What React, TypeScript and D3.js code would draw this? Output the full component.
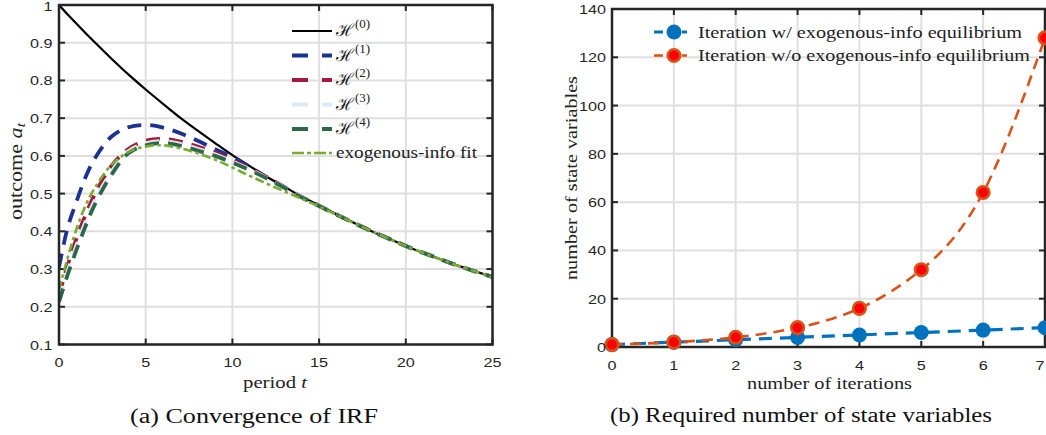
import React from "react";
import * as d3 from "d3";

// ---------- data ----------
const periods = [0, 0.5, 1, 1.5, 2, 3, 4, 5, 6, 7, 8, 9, 10, 11, 12, 13, 14, 15, 16, 17, 18, 19, 20, 21, 22, 23, 24, 25];
const irf0 = [1.0, 0.975, 0.951, 0.927, 0.904, 0.859, 0.816, 0.776, 0.738, 0.701, 0.667, 0.634, 0.602, 0.573, 0.544, 0.518, 0.492, 0.469, 0.445, 0.423, 0.401, 0.381, 0.361, 0.343, 0.326, 0.309, 0.294, 0.279];
const irf1 = [0.305, 0.41, 0.478, 0.54, 0.588, 0.65, 0.676, 0.682, 0.675, 0.66, 0.64, 0.618, 0.597, 0.571, 0.543, 0.517, 0.491, 0.468, 0.445, 0.423, 0.401, 0.381, 0.361, 0.343, 0.326, 0.309, 0.294, 0.279];
const irf2 = [0.23, 0.31, 0.38, 0.44, 0.492, 0.572, 0.618, 0.64, 0.645, 0.638, 0.625, 0.609, 0.589, 0.567, 0.543, 0.517, 0.491, 0.468, 0.445, 0.423, 0.401, 0.381, 0.361, 0.343, 0.326, 0.309, 0.294, 0.279];
const irf3 = [0.22, 0.295, 0.362, 0.422, 0.476, 0.556, 0.612, 0.633, 0.639, 0.632, 0.619, 0.604, 0.585, 0.564, 0.541, 0.516, 0.491, 0.468, 0.445, 0.423, 0.401, 0.381, 0.361, 0.343, 0.326, 0.309, 0.294, 0.279];
const irf4 = [0.213, 0.285, 0.35, 0.41, 0.465, 0.548, 0.607, 0.628, 0.634, 0.627, 0.614, 0.6, 0.582, 0.562, 0.54, 0.515, 0.49, 0.467, 0.444, 0.422, 0.401, 0.381, 0.361, 0.343, 0.326, 0.309, 0.294, 0.279];
const irfFit = [0.245, 0.33, 0.405, 0.465, 0.51, 0.575, 0.61, 0.625, 0.628, 0.62, 0.607, 0.59, 0.569, 0.547, 0.526, 0.506, 0.486, 0.466, 0.444, 0.422, 0.401, 0.381, 0.361, 0.343, 0.326, 0.309, 0.294, 0.278];

const leftXTicks = [0, 5, 10, 15, 20, 25];
const leftYTicks = [0.1, 0.2, 0.3, 0.4, 0.5, 0.6, 0.7, 0.8, 0.9, 1];
const leftYLabels = ["0.1", "0.2", "0.3", "0.4", "0.5", "0.6", "0.7", "0.8", "0.9", "1"];

const iterations = [0, 1, 2, 3, 4, 5, 6, 7];
const stateWithExo = [1, 2, 3, 4, 5, 6, 7, 8];
const stateWithoutExo = [1, 2, 4, 8, 16, 32, 64, 128];
const rightYTicks = [0, 20, 40, 60, 80, 100, 120, 140];

const legendLeft = ["(0)", "(1)", "(2)", "(3)", "(4)"];
const legendRight = ["Iteration w/ exogenous-info equilibrium", "Iteration w/o exogenous-info equilibrium"];

// ---------- styles ----------
const AX = "#262626";
const GRID = "#dfdfdf";
const SANS = "'Liberation Sans', Arial, sans-serif";
const SERIF = "'Liberation Serif', 'Times New Roman', serif";

const irfStyles = [
  { color: "#000000", width: 2.2, dash: "" },
  { color: "#1c3290", width: 3.8, dash: "14 9" },
  { color: "#a51b3e", width: 3.8, dash: "14 9" },
  { color: "#dbe9f8", width: 3.8, dash: "14 9" },
  { color: "#2c6847", width: 3.8, dash: "14 9" },
  { color: "#77ac30", width: 2.6, dash: "9 3.5 3.5 3.5" },
];

export default function App() {
  const lx = d3.scaleLinear().domain([0, 25]).range([59, 492.5]);
  const ly = d3.scaleLinear().domain([0.1, 1]).range([344.5, 5]);
  const rx = d3.scaleLinear().domain([0, 7]).range([612, 1045]);
  const ry = d3.scaleLinear().domain([0, 140]).range([347, 9]);

  const irfSeries = [irf0, irf1, irf2, irf3, irf4, irfFit];
  const lineL = d3
    .line<number>()
    .x((_, i) => lx(periods[i]))
    .y((d) => ly(d))
    .curve(d3.curveCatmullRom.alpha(0.5));

  const lineBlue = d3
    .line<number>()
    .x((_, i) => rx(iterations[i]))
    .y((d) => ry(d));
  const lineRed = d3
    .line<number>()
    .x((_, i) => rx(iterations[i]))
    .y((d) => ry(d))
    .curve(d3.curveNatural);

  const tickLen = 6;
  const sx = 1.2;

  const [lx0, lx1] = lx.range();
  const [ly0, ly1] = ly.range();
  const [rx0, rx1] = rx.range();
  const [ry0, ry1] = ry.range();

  const legRowsY = [31, 55.5, 80, 104.5, 129, 153];

  return (
    <svg
      width={1046}
      height={435}
      style={{ position: "absolute", left: 0, top: 0, background: "#fff" }}
    >
      <rect x={0} y={0} width={1046} height={435} fill="#fff" />
      <defs>
        <clipPath id="clipL">
          <rect x={lx0} y={ly1} width={lx1 - lx0} height={ly0 - ly1} />
        </clipPath>
        <clipPath id="clipR">
          <rect x={rx0 - 10} y={ry1 - 10} width={rx1 - rx0 + 20} height={ry0 - ry1 + 20} />
        </clipPath>
      </defs>

      {/* ===== LEFT PANEL ===== */}
      <g>
        {leftXTicks.map((t) => (
          <line key={"lgx" + t} x1={lx(t)} x2={lx(t)} y1={ly1} y2={ly0} stroke={GRID} strokeWidth={2} />
        ))}
        {leftYTicks.map((t) => (
          <line key={"lgy" + t} x1={lx0} x2={lx1} y1={ly(t)} y2={ly(t)} stroke={GRID} strokeWidth={2} />
        ))}
        {leftXTicks.map((t) => (
          <g key={"ltx" + t}>
            <line x1={lx(t)} x2={lx(t)} y1={ly0} y2={ly0 - tickLen} stroke={AX} strokeWidth={2} />
            <line x1={lx(t)} x2={lx(t)} y1={ly1} y2={ly1 + tickLen} stroke={AX} strokeWidth={2} />
          </g>
        ))}
        {leftYTicks.map((t) => (
          <g key={"lty" + t}>
            <line x1={lx0} x2={lx0 + tickLen} y1={ly(t)} y2={ly(t)} stroke={AX} strokeWidth={2} />
            <line x1={lx1} x2={lx1 - tickLen} y1={ly(t)} y2={ly(t)} stroke={AX} strokeWidth={2} />
          </g>
        ))}
        <g clipPath="url(#clipL)">
          {irfSeries.map((s, i) => (
            <path
              key={"irf" + i}
              d={lineL(s) || ""}
              fill="none"
              stroke={irfStyles[i].color}
              strokeWidth={irfStyles[i].width}
              strokeDasharray={irfStyles[i].dash || undefined}
            />
          ))}
        </g>
        <rect x={lx0} y={ly1} width={lx1 - lx0} height={ly0 - ly1} fill="none" stroke={AX} strokeWidth={2.5} />
        {leftXTicks.map((t) => (
          <g key={"lxl" + t} transform={`translate(${lx(t)},367) scale(${sx},1)`}>
            <text textAnchor="middle" fontFamily={SANS} fontSize={13.5} fill={AX}>
              {String(t)}
            </text>
          </g>
        ))}
        {leftYTicks.map((t, i) => (
          <g key={"lyl" + t} transform={`translate(52.5,${Math.max(ly(t) + 5, 11)}) scale(${sx},1)`}>
            <text textAnchor="end" fontFamily={SANS} fontSize={13.5} fill={AX}>
              {leftYLabels[i]}
            </text>
          </g>
        ))}
        <text x={243} y={388} fontFamily={SERIF} fontSize={17} fill="#222" textLength={64} lengthAdjust="spacingAndGlyphs">
          period <tspan fontStyle="italic">t</tspan>
        </text>
        <text
          transform="translate(22,220) rotate(-90)"
          fontFamily={SERIF}
          fontSize={18.5}
          fill="#222"
          textLength={97}
          lengthAdjust="spacingAndGlyphs"
        >
          outcome <tspan fontStyle="italic">a</tspan>
          <tspan fontStyle="italic" fontSize={13} dy={3}>t</tspan>
        </text>
        {legendLeft.map((lab, i) => (
          <g key={"legL" + i}>
            <line
              x1={292}
              x2={332}
              y1={legRowsY[i]}
              y2={legRowsY[i]}
              stroke={irfStyles[i].color}
              strokeWidth={irfStyles[i].width}
              strokeDasharray={i === 0 ? undefined : "16 14"}
            />
            <text x={336} y={legRowsY[i] + 5} fontFamily="'DejaVu Serif', serif" fontSize={17} fill="#222">
              <tspan>ℋ</tspan>
              <tspan fontFamily={SERIF} fontSize={13} dy={-8} dx={1}>{lab}</tspan>
            </text>
          </g>
        ))}
        <line x1={292} x2={332} y1={legRowsY[5]} y2={legRowsY[5]} stroke={irfStyles[5].color} strokeWidth={irfStyles[5].width} strokeDasharray="12 3 4 3" />
        <text x={336} y={legRowsY[5] + 5} fontFamily={SERIF} fontSize={17} fill="#222" textLength={141} lengthAdjust="spacingAndGlyphs">
          exogenous-info fit
        </text>
        <text x={130} y={423} fontFamily={SERIF} fontSize={20} fill="#111" textLength={248} lengthAdjust="spacingAndGlyphs">
          (a) Convergence of IRF
        </text>
      </g>

      {/* ===== RIGHT PANEL ===== */}
      <g>
        {iterations.map((t) => (
          <line key={"rgx" + t} x1={rx(t)} x2={rx(t)} y1={ry1} y2={ry0} stroke={GRID} strokeWidth={2} />
        ))}
        {rightYTicks.map((t) => (
          <line key={"rgy" + t} x1={rx0} x2={rx1} y1={ry(t)} y2={ry(t)} stroke={GRID} strokeWidth={2} />
        ))}
        {iterations.map((t) => (
          <g key={"rtx" + t}>
            <line x1={rx(t)} x2={rx(t)} y1={ry0} y2={ry0 - tickLen} stroke={AX} strokeWidth={2} />
            <line x1={rx(t)} x2={rx(t)} y1={ry1} y2={ry1 + tickLen} stroke={AX} strokeWidth={2} />
          </g>
        ))}
        {rightYTicks.map((t) => (
          <g key={"rty" + t}>
            <line x1={rx0} x2={rx0 + tickLen} y1={ry(t)} y2={ry(t)} stroke={AX} strokeWidth={2} />
            <line x1={rx1} x2={rx1 - tickLen} y1={ry(t)} y2={ry(t)} stroke={AX} strokeWidth={2} />
          </g>
        ))}
        <rect x={rx0} y={ry1} width={rx1 - rx0} height={ry0 - ry1} fill="none" stroke={AX} strokeWidth={2.5} />
        <g clipPath="url(#clipR)">
          <path d={lineBlue(stateWithExo) || ""} fill="none" stroke="#0072bd" strokeWidth={3.2} strokeDasharray="13 8" />
          {stateWithExo.map((v, i) => (
            <circle key={"bm" + i} cx={rx(iterations[i])} cy={ry(v)} r={7.5} fill="#0072bd" />
          ))}
          <path d={lineRed(stateWithoutExo) || ""} fill="none" stroke="#d95319" strokeWidth={2.6} strokeDasharray="11 7" />
          {stateWithoutExo.map((v, i) => (
            <circle key={"rm" + i} cx={rx(iterations[i])} cy={ry(v)} r={6.3} fill="#ff0000" stroke="#d95319" strokeWidth={2.6} />
          ))}
        </g>
        {iterations.map((t) => (
          <g key={"rxl" + t} transform={`translate(${Math.min(rx(t), 1040)},370) scale(${sx},1)`}>
            <text textAnchor="middle" fontFamily={SANS} fontSize={13.5} fill={AX}>
              {String(t)}
            </text>
          </g>
        ))}
        {rightYTicks.map((t) => (
          <g key={"ryl" + t} transform={`translate(606,${ry(t) + 5}) scale(${sx},1)`}>
            <text textAnchor="end" fontFamily={SANS} fontSize={13.5} fill={AX}>
              {String(t)}
            </text>
          </g>
        ))}
        <text x={747} y={389} fontFamily={SERIF} fontSize={17} fill="#222" textLength={165} lengthAdjust="spacingAndGlyphs">
          number of iterations
        </text>
        <text
          transform="translate(577,178) rotate(-90)"
          textAnchor="middle"
          fontFamily={SERIF}
          fontSize={17}
          fill="#222"
          textLength={204}
          lengthAdjust="spacingAndGlyphs"
        >
          number of state variables
        </text>
        <line x1={654} x2={687} y1={32} y2={32} stroke="#0072bd" strokeWidth={3.2} strokeDasharray="9 5" />
        <circle cx={674} cy={32} r={7.5} fill="#0072bd" />
        <text x={698} y={37.5} fontFamily={SERIF} fontSize={17} fill="#222" textLength={324} lengthAdjust="spacingAndGlyphs">
          {legendRight[0]}
        </text>
        <line x1={654} x2={687} y1={55.5} y2={55.5} stroke="#d95319" strokeWidth={2.6} strokeDasharray="9 5" />
        <circle cx={674} cy={55.5} r={6.3} fill="#ff0000" stroke="#d95319" strokeWidth={2.6} />
        <text x={698} y={61} fontFamily={SERIF} fontSize={17} fill="#222" textLength={332} lengthAdjust="spacingAndGlyphs">
          {legendRight[1]}
        </text>
        <text x={610} y={422} fontFamily={SERIF} fontSize={20} fill="#111" textLength={382} lengthAdjust="spacingAndGlyphs">
          (b) Required number of state variables
        </text>
      </g>
    </svg>
  );
}
